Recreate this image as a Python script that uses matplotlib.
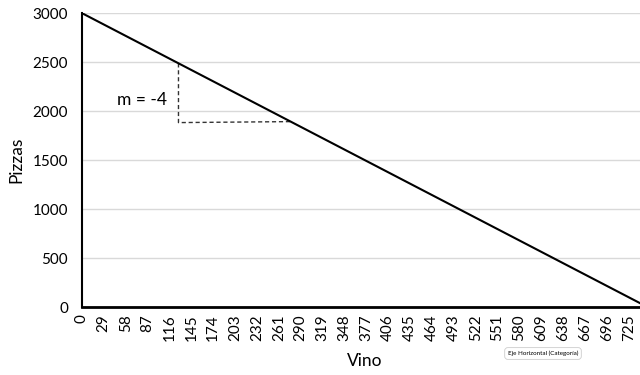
import matplotlib
matplotlib.use("Agg")
import matplotlib.pyplot as plt

# Straight demand line: pizzas vs wine
vino = [0, 750]
pizzas = [3000, 0]

# Slope guide (dashed right triangle under the line)
guide_x = [128, 128, 277]
guide_y = [2488, 1883, 1893]

x_tick_values = [0, 29, 58, 87, 116, 145, 174, 203, 232, 261, 290, 319, 348,
                 377, 406, 435, 464, 493, 522, 551, 580, 609, 638, 667, 696, 725]
y_tick_values = [0, 500, 1000, 1500, 2000, 2500, 3000]

plt.rcParams['font.family'] = ['Lato', 'DejaVu Sans']

fig = plt.figure(figsize=(6.4, 3.75), dpi=100)
ax = fig.add_axes([0.128, 0.181, 0.884, 0.784])

ax.plot(vino, pizzas, color='black', lw=1.5, solid_capstyle='butt', zorder=3)
ax.plot(guide_x, guide_y, color='#333333', lw=1.0, ls=(0, (3, 2)), zorder=2)
ax.text(79, 2112, 'm = -4', fontsize=12.5, ha='center', va='center')

ax.set_xlim(0, 750)
ax.set_ylim(0, 3000)
ax.set_yticks(y_tick_values)
ax.set_xticks(x_tick_values)
ax.set_xticklabels([str(v) for v in x_tick_values], rotation=90, fontsize=11)
ax.tick_params(axis='y', labelsize=11, length=0, pad=10)
ax.tick_params(axis='x', length=0, pad=5)

ax.grid(axis='y', color='#d9d9d9', lw=1.0)
ax.set_axisbelow(True)
for side in ('top', 'right'):
    ax.spines[side].set_visible(False)
ax.spines['left'].set_linewidth(1.5)
ax.spines['bottom'].set_linewidth(2.0)

ax.set_xlabel('Vino', fontsize=12.5, labelpad=9)
ax.set_ylabel('Pizzas', fontsize=12.5, labelpad=6)

fig.text(543 / 640, 1 - 353.5 / 375, 'Eje Horizontal (Categoría)', fontsize=4.5,
         ha='center', va='center',
         bbox=dict(boxstyle='round,pad=0.5', fc='white', ec='#cccccc', lw=0.6))

fig.savefig('out.png', dpi=100)
